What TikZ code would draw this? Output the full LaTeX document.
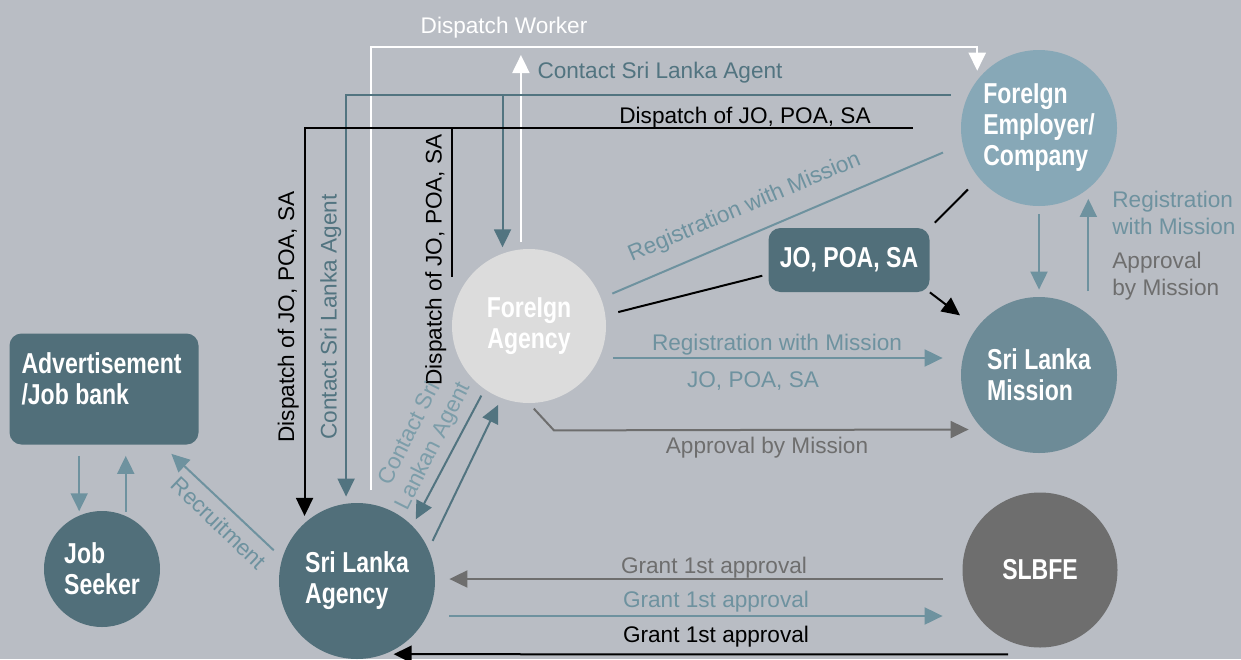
\documentclass[tikz,border=0pt]{standalone}
\usepackage{fontspec}
\setmainfont{Liberation Sans}
\newfontfamily\condbold[FakeStretch=0.8]{Liberation Sans Bold}
\usetikzlibrary{arrows.meta}

\definecolor{bgcol}{HTML}{B9BDC4}
\definecolor{darkteal}{HTML}{516F7A}
\definecolor{fecol}{HTML}{87A8B7}
\definecolor{smcol}{HTML}{6D8B97}
\definecolor{facol}{HTML}{DCDCDC}
\definecolor{sbcol}{HTML}{6E6E6E}
\definecolor{tealdark}{HTML}{527480}
\definecolor{teallight}{HTML}{6E929F}
\definecolor{tealpale}{HTML}{7C9DA9}
\definecolor{greyline}{HTML}{6E6E6E}

\newcommand{\bignodefont}{\condbold\fontsize{14.4}{15.5}\selectfont}
\newcommand{\lblfont}{\fontsize{11.3}{13.5}\selectfont}

\begin{document}
\begin{tikzpicture}[x=0.5pt, y=-0.5pt,
  actor/.style={circle, minimum size=78pt, inner sep=0pt, text=white, font=\bignodefont, align=left},
  panel/.style={rectangle, rounded corners=6pt, fill=darkteal, inner sep=0pt, text=white, font=\bignodefont},
  lbl/.style={inner sep=0pt, font=\lblfont},
  arr/.style={-{Triangle[length=9pt,width=8.5pt]}},
  wline/.style={draw=white, line width=1pt},
  bline/.style={draw=black, line width=1pt},
  tdline/.style={draw=tealdark, line width=1pt},
  tlline/.style={draw=teallight, line width=1pt},
  gline/.style={draw=greyline, line width=1pt}]

% background and frame
\fill[bgcol] (0,0) rectangle (1241,659);
\useasboundingbox (0,0) rectangle (1241,659);

% the actors
\node[actor, fill=fecol] (fe) at (1039,128) {ForeIgn\\Employer/\\Company};
\node[actor, fill=smcol] (sm) at (1039,375) {Sri Lanka\\Mission};
\node[actor, fill=sbcol, align=center, minimum size=77.5pt] (sb) at (1040,570) {SLBFE};
\node[actor, fill=facol, align=center, minimum size=77pt] (fa) at (529,326) {ForeIgn\\Agency};
\node[actor, fill=darkteal] (sla) at (357,581) {Sri Lanka\\Agency};
\node[actor, fill=darkteal, minimum size=58pt] (js) at (102,569) {Job\\Seeker};
\node[panel, minimum width=94.5pt, minimum height=55.5pt] (ad) at (104,389) {};
\node[lbl, font=\bignodefont, text=white, align=left, anchor=north west] (adtext) at ([shift={(12,19)}]ad.north west) {Advertisement\\/Job bank};
\node[panel, minimum width=80.5pt, minimum height=32pt] (jo) at (849,260) {JO, POA, SA};

% bend points of the long lines
\coordinate (dwl) at (371,47);

% dispatch worker (white)
\draw[wline, arr, shorten <=6.5pt, shorten >=4.5pt] (sla.north -| dwl) -- (dwl) -| (fe.142.6);
\draw[wline, arr, shorten <=3.5pt, shorten >=4pt] (fa.96) -- (fa.96 |- dwl);
\node[lbl, text=white, anchor=base] (ldw) at (504,33) {Dispatch Worker};

% contact sri lanka agent
\draw[tdline, arr, shorten <=8.5pt, shorten >=3.4pt] (fe.155.8) -| (sla.98.1);
\draw[tdline, arr, shorten >=3pt] (fa.110.5 |- fe.155.8) -- (fa.110.5);
\node[lbl, text=tealdark, anchor=base] (lcsa) at (660,78) {Contact Sri Lanka Agent};
\node[lbl, text=tealdark, anchor=base, rotate=90] (lcsa2) at (336.5,317) {Contact Sri Lanka Agent};

% dispatch of JO, POA, SA
\draw[bline, arr, shorten <=24pt, shorten >=3.4pt] (fe.west) -| (sla.132.8);
\draw[bline, shorten >=24.5pt] (fa.west |- fe.west) -- (fa.west);
\node[lbl, anchor=base] (ldjo) at (745,123) {Dispatch of JO, POA, SA};
\node[lbl, anchor=base, rotate=90] (ldjo2) at (294,317) {Dispatch of JO, POA, SA};
\node[lbl, anchor=base, rotate=90] (ldjo3) at (441.5,260) {Dispatch of JO, POA, SA};

% registration with mission, foreign agency to employer
\draw[tlline, shorten <=6pt, shorten >=10.5pt] (fa.21.1) -- (fe.192.2);
\node[lbl, text=teallight, anchor=base, rotate=23] (lreg1) at (747,213) {Registration with Mission};

% the JO, POA, SA documents
\draw[bline, shorten <=6.5pt, shorten >=3pt] (fa.8.3) -- (jo.190.6);
\draw[bline, shorten <=3.5pt, shorten >=7.8pt] (jo.north east) -- (fe.220.7);
\draw[bline, arr, shorten >=10.3pt] (jo.south east) -- (sm.143.2);

% registration with mission, foreign agency to mission
\draw[tlline, arr, shorten <=3.5pt, shorten >=9pt] ([yshift=-16pt]fa.east) -- ([yshift=8.5pt]sm.west);
\node[lbl, text=teallight, anchor=base] (lreg2) at (777,350) {Registration with Mission};
\node[lbl, text=teallight, anchor=base] (ljo) at (753,387) {JO, POA, SA};

% approval by mission
\draw[gline, arr, shorten <=3.5pt, shorten >=7pt] (fa.south) -- ++(25,27) -- (sm.224.8);
\node[lbl, text=greyline, anchor=base] (lapp) at (767,453) {Approval by Mission};

% employer and mission
\draw[tlline, arr, shorten <=4pt, shorten >=3.5pt] (fe.south) -- (sm.north);
\draw[tlline, arr, shorten <=11.5pt, shorten >=5pt] (sm.51.1) -- (fe.-51.1);
\node[lbl, text=teallight, align=left, anchor=west] (lreg3) at (1112,213) {Registration\\with Mission};
\node[lbl, text=greyline, align=left, anchor=west] (lapp2) at (1112,276) {Approval\\by Mission};

% contact sri lankan agent
\draw[tdline, arr, shorten <=3.5pt, shorten >=3.5pt] (fa.235.2) -- (sla.45);
\draw[tdline, arr, shorten <=4.6pt, shorten >=3.7pt] (sla.24.8) -- (fa.249.7);
\node[lbl, text=tealpale, align=center, rotate=63.3] (lcsla) at (422,440) {Contact Sri\\Lankan Agent};

% recruitment and job seeker
\draw[tlline, arr, shorten <=5.7pt, shorten >=6.5pt] (sla.163.5) -- (ad.-44.2);
\node[lbl, text=teallight, rotate=-43.6] (lrec) at (219,523) {Recruitment};
\draw[tlline, arr, shorten <=5.5pt, shorten >=2pt] (ad.south -| js.113.4) -- (js.113.4);
\draw[tlline, arr, shorten <=2pt, shorten >=5.5pt] (js.66.6) -- (js.66.6 |- ad.south);

% grant 1st approval
\draw[gline, arr, shorten <=9.75pt, shorten >=7pt] ([yshift=-4.5pt]sb.west) -- ([yshift=1pt]sla.east);
\draw[tlline, arr, shorten <=7pt, shorten >=9.75pt] ([yshift=-17.5pt]sla.east) -- ([yshift=-23pt]sb.west);
\draw[bline, arr, shorten >=4.25pt] ([shift={(-32,6.5)}]sb.south) -- (sla.-69.4);
\node[lbl, text=greyline, anchor=base] (lg1) at (714,573) {Grant 1st approval};
\node[lbl, text=teallight, anchor=base] (lg2) at (716,607) {Grant 1st approval};
\node[lbl, anchor=base] (lg3) at (716,642) {Grant 1st approval};

\end{tikzpicture}
\end{document}
